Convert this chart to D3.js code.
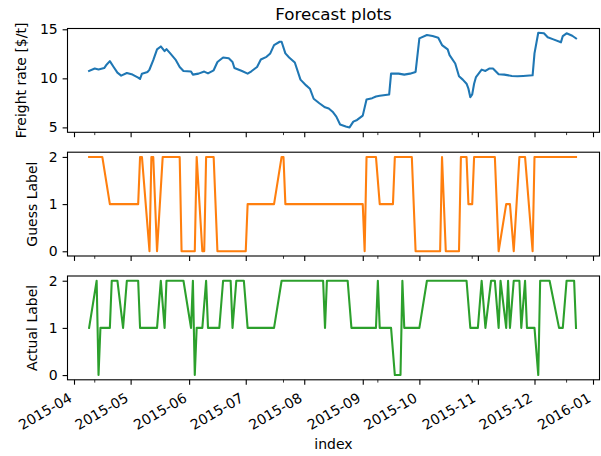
<!DOCTYPE html>
<html>
<head>
<meta charset="utf-8">
<script src="https://cdn.jsdelivr.net/npm/d3@7"></script>
<style>
  body { margin: 0; background: #fff; }
  svg { display: block; }
  text { font-family: "DejaVu Sans", sans-serif; fill: #000; }
</style>
</head>
<body>
<svg id="chart" width="601" height="456"></svg>
<script>
// Freight rate series ($/t)
const rateDates = [
  "2015-04-09","2015-04-12","2015-04-14","2015-04-17","2015-04-18","2015-04-20","2015-04-22","2015-04-24",
  "2015-04-26","2015-04-29","2015-05-02","2015-05-05","2015-05-06","2015-05-07","2015-05-10","2015-05-11",
  "2015-05-13","2015-05-15","2015-05-17","2015-05-19","2015-05-20","2015-05-22","2015-05-25","2015-05-27",
  "2015-05-29","2015-06-02","2015-06-03","2015-06-06","2015-06-09","2015-06-11","2015-06-14","2015-06-16",
  "2015-06-19","2015-06-22","2015-06-24","2015-06-25","2015-06-29","2015-07-02","2015-07-04","2015-07-07",
  "2015-07-09","2015-07-12","2015-07-14","2015-07-16","2015-07-19","2015-07-20","2015-07-22","2015-07-24",
  "2015-07-27","2015-07-30","2015-08-02","2015-08-04","2015-08-06","2015-08-09","2015-08-12","2015-08-14",
  "2015-08-16","2015-08-18","2015-08-20","2015-08-23","2015-08-25","2015-08-27","2015-08-29","2015-09-01",
  "2015-09-03","2015-09-06","2015-09-08","2015-09-10","2015-09-15","2015-09-16","2015-09-20","2015-09-23",
  "2015-09-26","2015-09-29","2015-10-01","2015-10-05","2015-10-08","2015-10-11","2015-10-13","2015-10-16",
  "2015-10-17","2015-10-20","2015-10-22","2015-10-24","2015-10-26","2015-10-27","2015-10-28","2015-10-29",
  "2015-10-30","2015-10-31","2015-11-03","2015-11-05","2015-11-07","2015-11-09","2015-11-12","2015-11-15",
  "2015-11-19","2015-11-22","2015-11-25","2015-11-30","2015-12-01","2015-12-03","2015-12-06","2015-12-08",
  "2015-12-11","2015-12-15","2015-12-16","2015-12-18","2015-12-21","2015-12-23"
];
const rateValues = [
  10.75,11.0,10.9,11.05,11.33,11.75,11.16,10.58,
  10.28,10.55,10.38,10.07,9.93,10.48,10.65,10.9,
  11.85,12.95,13.25,12.77,12.98,12.54,11.85,11.16,
  10.75,10.69,10.38,10.48,10.69,10.51,10.82,11.67,
  12.12,12.05,11.67,11.06,10.75,10.48,10.72,11.16,
  11.92,12.19,12.54,13.39,13.73,13.73,12.54,12.12,
  11.61,9.87,9.28,8.94,7.92,7.46,7.05,6.92,
  6.6,6.1,5.3,5.1,5.0,5.59,5.76,6.2,
  7.84,7.98,8.15,8.22,8.36,10.48,10.48,10.38,
  10.48,10.65,14.07,14.41,14.31,14.14,13.39,12.95,
  12.36,11.51,10.21,9.87,9.45,8.94,8.08,8.36,
  9.45,10.13,10.89,10.75,11.0,11.0,10.41,10.38,
  10.24,10.21,10.24,10.31,12.54,14.65,14.59,14.18,
  13.97,13.67,14.31,14.59,14.34,14.07
];

// Predicted label (0 / 1 / 2), listed at the dates where it changes
const guessDates = [
  "2015-04-09","2015-04-16","2015-04-20","2015-05-05","2015-05-06","2015-05-07","2015-05-11","2015-05-12",
  "2015-05-13","2015-05-15","2015-05-18","2015-05-27","2015-05-28","2015-06-04","2015-06-05","2015-06-08",
  "2015-06-09","2015-06-10","2015-06-14","2015-06-16","2015-07-01","2015-07-02","2015-07-16","2015-07-20",
  "2015-07-21","2015-07-22","2015-09-01","2015-09-02","2015-09-03","2015-09-08","2015-09-10","2015-09-17",
  "2015-09-18","2015-09-27","2015-09-29","2015-10-12","2015-10-13","2015-10-15","2015-10-22","2015-10-23",
  "2015-10-26","2015-10-27","2015-10-29","2015-10-30","2015-11-10","2015-11-12","2015-11-16","2015-11-18",
  "2015-11-20","2015-11-23","2015-11-26","2015-11-30","2015-12-01","2015-12-23"
];
const guessValues = [
  2,2,1,1,2,2,0,2,
  2,0,2,2,0,0,2,0,
  0,2,2,0,0,1,1,2,
  2,1,1,0,2,2,1,1,
  2,2,0,0,2,0,0,2,
  2,1,1,2,2,0,1,1,
  0,2,2,0,2,2
];

// Observed label (0 / 1 / 2), listed at the dates where it changes
const actualDates = [
  "2015-04-09","2015-04-13","2015-04-14","2015-04-15","2015-04-20","2015-04-21","2015-04-24","2015-04-27",
  "2015-04-29","2015-05-05","2015-05-06","2015-05-15","2015-05-17","2015-05-19","2015-05-20","2015-05-29",
  "2015-06-02","2015-06-03","2015-06-04","2015-06-05","2015-06-08","2015-06-10","2015-06-11","2015-06-17",
  "2015-06-19","2015-06-23","2015-06-24","2015-06-26","2015-06-30","2015-07-02","2015-07-16","2015-07-20",
  "2015-08-11","2015-08-12","2015-08-13","2015-08-24","2015-08-26","2015-09-08","2015-09-09","2015-09-10",
  "2015-09-16","2015-09-18","2015-09-21","2015-09-22","2015-09-23","2015-10-01","2015-10-05","2015-10-26",
  "2015-10-28","2015-11-01","2015-11-03","2015-11-05","2015-11-08","2015-11-10","2015-11-12","2015-11-13",
  "2015-11-16","2015-11-17","2015-11-18","2015-11-20","2015-11-23","2015-11-24","2015-11-26","2015-11-27",
  "2015-12-01","2015-12-03","2015-12-04","2015-12-09","2015-12-14","2015-12-16","2015-12-18","2015-12-22",
  "2015-12-23"
];
const actualValues = [
  1,2,0,1,1,2,2,1,
  2,2,1,1,2,1,2,2,
  1,2,0,1,1,2,1,1,
  2,2,1,2,2,1,1,2,
  2,1,2,2,1,1,2,1,
  1,0,0,2,1,1,2,2,
  1,1,2,1,2,2,1,2,
  1,2,1,2,2,1,2,1,
  1,0,2,2,1,1,2,2,
  1
];

// Axis ticks
const monthTicks = ["2015-04-01","2015-05-01","2015-06-01","2015-07-01","2015-08-01",
                    "2015-09-01","2015-10-01","2015-11-01","2015-12-01","2016-01-01"];
const monthLabels = ["2015-04","2015-05","2015-06","2015-07","2015-08",
                     "2015-09","2015-10","2015-11","2015-12","2016-01"];
const minorTicks = ["2015-04-12","2015-07-21","2015-09-09","2015-10-29","2015-12-18"];
const rateTicks = [5, 10, 15];
const labelTicks = [0, 1, 2];

const parse = d3.timeParse("%Y-%m-%d");
const svg = d3.select("#chart");

const left = 67.5, right = 599.5, panelH = 103.8;
const tops = [28.5, 152.2, 276];
const majorLen = 4.9, minorLen = 2.8, tickPad = 4.9;
const tickFont = 14;

const x = d3.scaleTime()
  .domain([parse("2015-04-01"), parse("2016-01-01")])
  .range([74, 593]);

const panels = [
  { dates: rateDates, values: rateValues, color: "#1f77b4", domain: [4.5, 15.08],
    ticks: rateTicks, label: "Freight rate [$/t]", labelX: 25.5 },
  { dates: guessDates, values: guessValues, color: "#ff7f0e", domain: [-0.1, 2.1],
    ticks: labelTicks, label: "Guess Label", labelX: 37 },
  { dates: actualDates, values: actualValues, color: "#2ca02c", domain: [-0.1, 2.1],
    ticks: labelTicks, label: "Actual Label", labelX: 37 }
];

panels.forEach((p, i) => {
  const top = tops[i], bottom = top + panelH;
  const y = d3.scaleLinear().domain(p.domain).range([bottom, top]);
  const g = svg.append("g");

  // data line
  const pts = p.dates.map((d, k) => ({ date: parse(d), value: p.values[k] }));
  g.append("path")
    .datum(pts)
    .attr("fill", "none")
    .attr("stroke", p.color)
    .attr("stroke-width", 2.08)
    .attr("stroke-linejoin", "round")
    .attr("stroke-linecap", "square")
    .attr("d", d3.line().x(d => x(d.date)).y(d => y(d.value)));

  // frame
  g.append("rect")
    .attr("x", left).attr("y", top)
    .attr("width", right - left).attr("height", panelH)
    .attr("fill", "none").attr("stroke", "#000").attr("stroke-width", 1.1);

  // y axis
  const ya = g.append("g")
    .attr("transform", `translate(${left},0)`)
    .call(d3.axisLeft(y).tickValues(p.ticks).tickSize(majorLen).tickPadding(tickPad).tickFormat(d3.format("d")));
  ya.select(".domain").remove();
  ya.selectAll("line").attr("stroke", "#000").attr("stroke-width", 1.1);
  ya.selectAll("text").attr("font-size", tickFont).attr("font-family", "DejaVu Sans, sans-serif");

  // x axis: major (months) and minor ticks
  const xa = g.append("g")
    .attr("transform", `translate(0,${bottom})`)
    .call(d3.axisBottom(x).tickValues(monthTicks.map(parse)).tickSize(majorLen)
      .tickFormat((d, k) => i === 2 ? monthLabels[k] : ""));
  xa.select(".domain").remove();
  xa.selectAll("line").attr("stroke", "#000").attr("stroke-width", 1.1);
  xa.selectAll("text")
    .attr("font-size", tickFont)
    .attr("font-family", "DejaVu Sans, sans-serif")
    .attr("text-anchor", "end")
    .attr("x", 0).attr("y", 0).attr("dy", null)
    .attr("transform", "translate(-1.65,21.1) rotate(-30)");

  g.append("g")
    .attr("transform", `translate(0,${bottom})`)
    .selectAll("line")
    .data(minorTicks.map(parse))
    .join("line")
    .attr("x1", d => x(d)).attr("x2", d => x(d))
    .attr("y1", 0).attr("y2", minorLen)
    .attr("stroke", "#000").attr("stroke-width", 0.8);

  // y label
  g.append("text")
    .attr("transform", `translate(${p.labelX},${(top + bottom) / 2}) rotate(-90)`)
    .attr("text-anchor", "middle")
    .attr("font-size", tickFont)
    .text(p.label);
});

// title and x label
svg.append("text")
  .attr("x", (left + right) / 2).attr("y", 20.2)
  .attr("text-anchor", "middle")
  .attr("font-size", 16.7)
  .text("Forecast plots");

svg.append("text")
  .attr("x", (left + right) / 2).attr("y", 449)
  .attr("text-anchor", "middle")
  .attr("font-size", tickFont)
  .text("index");
</script>
</body>
</html>
